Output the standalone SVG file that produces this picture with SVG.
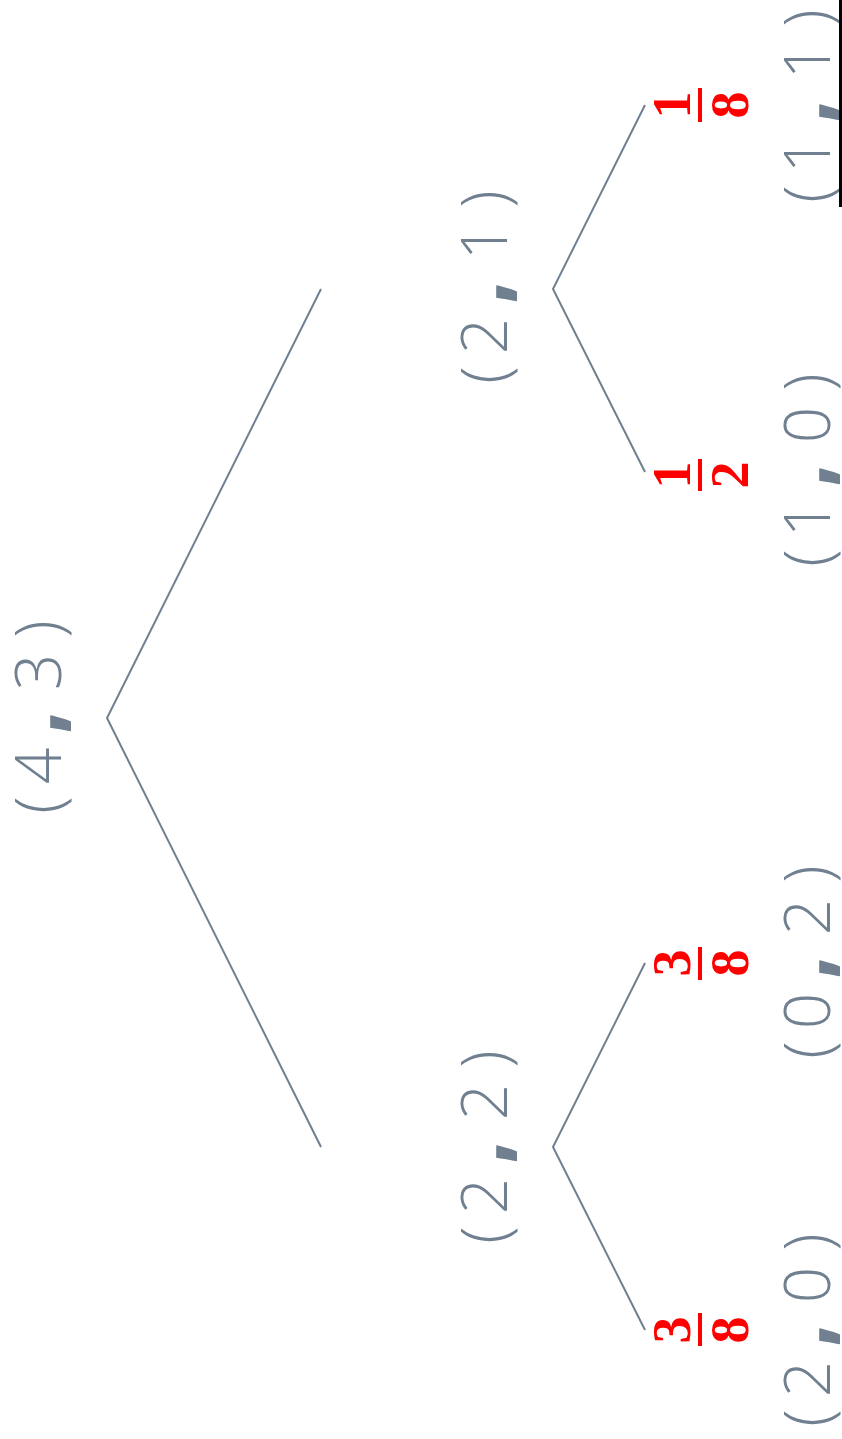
<svg xmlns="http://www.w3.org/2000/svg" width="842" height="1439" viewBox="0 0 842 1439">
<style>
.lbl{font-family:"Open Sans","Liberation Sans",sans-serif;font-weight:350;font-size:64px;fill:#708090;text-anchor:middle}
.cm{font-family:"Open Sans","Liberation Sans",sans-serif;font-weight:800;font-size:72px;fill:#708090;text-anchor:middle}
.frac{font-family:"Liberation Serif",serif;font-weight:bold;font-size:54px;fill:#ff0000;text-anchor:middle}
.bar{fill:#ff0000}
.edge{stroke:#708090;stroke-width:2;fill:none}
</style>
<rect width="842" height="1439" fill="#ffffff"/>
<g id="connectors">
<polyline class="edge" points="321,289 107,718 321,1147"/>
<polyline class="edge" points="645,105 553,289 645,472"/>
<polyline class="edge" points="645,963 553,1147 645,1330"/>
</g>
<g id="n43" transform="translate(61,717) rotate(-90)">
<text class="lbl" x="-88" y="0">(</text><text class="lbl" x="-49" y="0">4</text><text class="cm" x="-5" y="0">,</text><text class="lbl" x="45" y="0">3</text><text class="lbl" x="88" y="0">)</text>
</g>
<g id="n21" transform="translate(507,287) rotate(-90)">
<text class="lbl" x="-88" y="0">(</text><text class="lbl" x="-49" y="0">2</text><text class="cm" x="-5" y="0">,</text><text class="lbl" x="45" y="0">1</text><text class="lbl" x="88" y="0">)</text>
</g>
<g id="n22" transform="translate(507,1147) rotate(-90)">
<text class="lbl" x="-88" y="0">(</text><text class="lbl" x="-49" y="0">2</text><text class="cm" x="-5" y="0">,</text><text class="lbl" x="45" y="0">2</text><text class="lbl" x="88" y="0">)</text>
</g>
<g id="n11">
<g transform="translate(748,105) rotate(-90)"><text class="frac" x="0" y="0">8</text></g>
<g transform="translate(690,105) rotate(-90)"><text class="frac" x="0" y="0">1</text></g>
<rect class="bar" x="698" y="88" width="4" height="34"/>
<g transform="translate(830,106) rotate(-90)">
<text class="lbl" x="-88" y="0">(</text><text class="lbl" x="-49" y="0">1</text><text class="cm" x="-5" y="0">,</text><text class="lbl" x="45" y="0">1</text><text class="lbl" x="88" y="0">)</text>
</g>
</g>
<g id="n10">
<g transform="translate(690,475) rotate(-90)"><text class="frac" x="0" y="0">1</text></g>
<g transform="translate(748,475) rotate(-90)"><text class="frac" x="0" y="0">2</text></g>
<rect class="bar" x="698" y="459" width="4" height="32"/>
<g transform="translate(830,470) rotate(-90)">
<text class="lbl" x="-88" y="0">(</text><text class="lbl" x="-49" y="0">1</text><text class="cm" x="-5" y="0">,</text><text class="lbl" x="45" y="0">0</text><text class="lbl" x="88" y="0">)</text>
</g>
</g>
<g id="n02">
<g transform="translate(690,963) rotate(-90)"><text class="frac" x="0" y="0">3</text></g>
<g transform="translate(748,963) rotate(-90)"><text class="frac" x="0" y="0">8</text></g>
<rect class="bar" x="698" y="947" width="4" height="33"/>
<g transform="translate(830,962) rotate(-90)">
<text class="lbl" x="-88" y="0">(</text><text class="lbl" x="-49" y="0">0</text><text class="cm" x="-5" y="0">,</text><text class="lbl" x="45" y="0">2</text><text class="lbl" x="88" y="0">)</text>
</g>
</g>
<g id="n20">
<g transform="translate(690,1330) rotate(-90)"><text class="frac" x="0" y="0">3</text></g>
<g transform="translate(748,1330) rotate(-90)"><text class="frac" x="0" y="0">8</text></g>
<rect class="bar" x="698" y="1313" width="4" height="33"/>
<g transform="translate(830,1330) rotate(-90)">
<text class="lbl" x="-88" y="0">(</text><text class="lbl" x="-49" y="0">2</text><text class="cm" x="-5" y="0">,</text><text class="lbl" x="45" y="0">0</text><text class="lbl" x="88" y="0">)</text>
</g>
</g>
<rect x="839" y="0" width="3" height="207" fill="#000000"/>
</svg>
